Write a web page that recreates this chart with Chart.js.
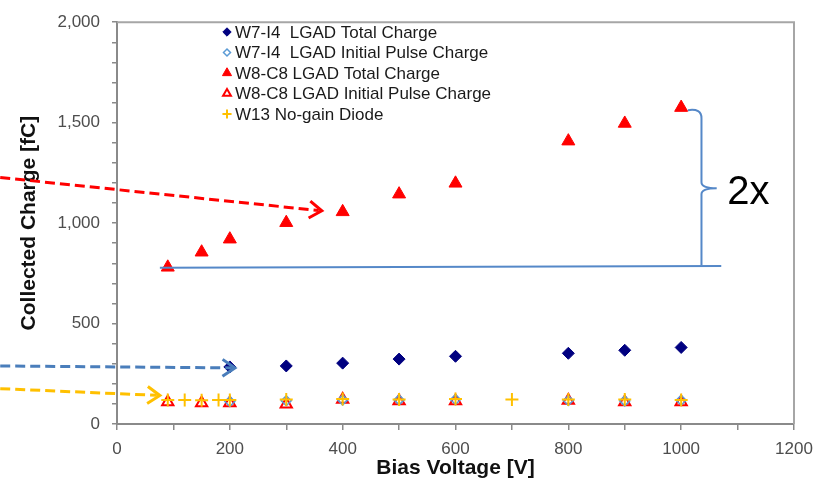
<!DOCTYPE html>
<html>
<head>
<meta charset="utf-8">
<script src="https://cdn.jsdelivr.net/npm/chart.js@4/dist/chart.umd.min.js"></script>
<style>
  html, body { margin: 0; padding: 0; background: #fff; }
  #wrap { width: 827px; height: 486px; position: relative; }
</style>
</head>
<body>
<div id="wrap"><canvas id="chargeChart"></canvas></div>
<script>
// bias voltage [V] and collected charge [fC] per sensor
const w7TotalV   = [200, 300, 400, 500, 600, 800, 900, 1000];
const w7TotalQ   = [284, 289, 303, 323, 337, 352, 367, 381];
const w7InitV    = [200, 300, 400, 500, 600, 800, 900, 1000];
const w7InitQ    = [112, 116, 120, 120, 122, 117, 115, 118];
const w8TotalV   = [90, 150, 200, 300, 400, 500, 600, 800, 900, 1000];
const w8TotalQ   = [780, 855, 920, 1002, 1056, 1144, 1198, 1408, 1496, 1575];
const w8InitV    = [90, 150, 200, 300, 400, 500, 600, 800, 900, 1000];
const w8InitQ    = [109, 104, 104, 98, 122, 114, 114, 117, 109, 109];
const w13V       = [90, 120, 150, 180, 200, 300, 400, 500, 600, 700, 800, 900, 1000];
const w13Q       = [120, 120, 118, 120, 120, 122, 124, 122, 124, 122, 122, 122, 120];

const seriesNames = [
  'W7-I4  LGAD Total Charge',
  'W7-I4  LGAD Initial Pulse Charge',
  'W8-C8 LGAD Total Charge',
  'W8-C8 LGAD Initial Pulse Charge',
  'W13 No-gain Diode'
];

// dashed call-out arrows, [V, fC] end points
const arrowRed    = [[-207, 1227], [363, 1061]];
const arrowBlue   = [[-207, 289], [209, 279]];
const arrowYellow = [[-207, 176], [76, 142]];
// "2x" brace, [V, fC]
const braceBase  = [[76, 778], [1071, 787]];
const braceTop   = [1012, 1562];
const braceX     = 1036;
const braceTip   = [1063, 1174];
const braceLabel = [1119, 1152];

const pts = (xs, ys) => xs.map((x, i) => ({ x, y: ys[i] }));
const NAVY = '#000080', LBLUE = '#5b9bd5', RED = '#ff0000', GOLD = '#ffc000';
const FONT = '"Liberation Sans", Arial, sans-serif';

const styles = [
  { pointStyle: 'rectRot',  radius: 6,   fill: NAVY, stroke: NAVY, bw: 1 },
  { pointStyle: 'rectRot',  radius: 5,   fill: 'rgba(0,0,0,0)', stroke: LBLUE, bw: 1.5 },
  { pointStyle: 'triangle', radius: 7.5, fill: RED,  stroke: RED,  bw: 1 },
  { pointStyle: 'triangle', radius: 6.5, fill: 'rgba(0,0,0,0)', stroke: RED, bw: 2 },
  { pointStyle: 'cross',    radius: 6.5, fill: GOLD, stroke: GOLD, bw: 2 }
];
const dataSets = [pts(w7TotalV, w7TotalQ), pts(w7InitV, w7InitQ), pts(w8TotalV, w8TotalQ),
                  pts(w8InitV, w8InitQ), pts(w13V, w13Q)];
const drawOrder = [4, 2, 5, 3, 1];

// legend inside the plot, top left
const legendBox = {
  id: 'legendBox',
  afterDraw(chart) {
    const ctx = chart.ctx;
    ctx.save();
    ctx.font = '17px ' + FONT;
    ctx.textBaseline = 'middle';
    ctx.fillStyle = '#1a1a1a';
    seriesNames.forEach((name, i) => {
      const y = 32 + i * 20.5, s = styles[i];
      ctx.fillStyle = s.fill; ctx.strokeStyle = s.stroke; ctx.lineWidth = s.bw;
      Chart.helpers.drawPoint(ctx, { pointStyle: s.pointStyle, radius: s.radius * 0.7, borderWidth: s.bw, rotation: 0 }, 227, y);
      ctx.fillStyle = '#1a1a1a';
      ctx.fillText(name, 235, y + 1);
    });
    ctx.restore();
  }
};

// top/right frame of plot area
const frame = {
  id: 'frame',
  beforeDatasetsDraw(chart) {
    const { ctx, chartArea: a } = chart;
    ctx.save();
    ctx.strokeStyle = '#a6a6a6'; ctx.lineWidth = 2;
    ctx.beginPath();
    ctx.moveTo(a.left, a.top); ctx.lineTo(a.right, a.top); ctx.lineTo(a.right, a.bottom);
    ctx.stroke();
    ctx.restore();
  }
};

// arrows + brace drawn in data space
const callouts = {
  id: 'callouts',
  afterDraw(chart) {
    const { ctx } = chart, sx = chart.scales.x, sy = chart.scales.y;
    const P = p => [sx.getPixelForValue(p[0]), sy.getPixelForValue(p[1])];

    function arrow(seg, color) {
      const [x0, y0] = P(seg[0]), [x1, y1] = P(seg[1]);
      const ang = Math.atan2(y1 - y0, x1 - x0);
      ctx.save();
      ctx.strokeStyle = color; ctx.lineWidth = 3; ctx.lineCap = 'butt';
      ctx.setLineDash([10, 5]);
      ctx.beginPath(); ctx.moveTo(x0, y0); ctx.lineTo(x1 - 3 * Math.cos(ang), y1 - 3 * Math.sin(ang)); ctx.stroke();
      ctx.setLineDash([]);
      ctx.lineJoin = 'miter';
      const L = 15, spread = 0.6;
      ctx.beginPath();
      ctx.moveTo(x1 - L * Math.cos(ang - spread), y1 - L * Math.sin(ang - spread));
      ctx.lineTo(x1, y1);
      ctx.lineTo(x1 - L * Math.cos(ang + spread), y1 - L * Math.sin(ang + spread));
      ctx.stroke();
      ctx.restore();
    }
    arrow(arrowRed, '#ff0000');
    arrow(arrowBlue, '#4a7ebb');
    arrow(arrowYellow, '#ffc000');

    ctx.save();
    ctx.strokeStyle = '#5588c8'; ctx.lineWidth = 2;
    const [bx0, by0] = P(braceBase[0]), [bx1, by1] = P(braceBase[1]);
    ctx.beginPath(); ctx.moveTo(bx0, by0); ctx.lineTo(bx1, by1); ctx.stroke();

    const [tx, ty] = P(braceTop), bx = sx.getPixelForValue(braceX);
    const [px, py] = P(braceTip);
    ctx.beginPath();
    ctx.moveTo(tx, ty);
    ctx.quadraticCurveTo(bx, ty - 2, bx, ty + 8);
    ctx.lineTo(bx, py - 6);
    ctx.quadraticCurveTo(bx, py, px, py);
    ctx.quadraticCurveTo(bx, py, bx, py + 6);
    ctx.lineTo(bx, by1 - 1);
    ctx.stroke();

    const [lx, ly] = P(braceLabel);
    ctx.fillStyle = '#000';
    ctx.font = '40px ' + FONT;
    ctx.textAlign = 'center'; ctx.textBaseline = 'middle';
    ctx.fillText('2x', lx, ly);
    ctx.restore();
  }
};

new Chart(document.getElementById('chargeChart'), {
  type: 'scatter',
  data: {
    datasets: dataSets.map((d, i) => ({
      label: seriesNames[i],
      data: d,
      order: drawOrder[i],
      pointStyle: styles[i].pointStyle,
      pointRadius: styles[i].radius,
      pointHoverRadius: styles[i].radius,
      backgroundColor: styles[i].fill,
      borderColor: styles[i].stroke,
      pointBorderWidth: styles[i].bw,
      showLine: false
    }))
  },
  options: {
    responsive: true, maintainAspectRatio: false, animation: false,
    layout: { padding: { top: 15, right: 33, left: 0, bottom: 0 } },
    plugins: { legend: { display: false }, tooltip: { enabled: false } },
    scales: {
      x: {
        min: 0, max: 1200,
        afterFit: s => { s.height = 62; },
        border: { color: '#8a8a8a', width: 2 },
        grid: { drawOnChartArea: false, drawTicks: true, tickLength: 6, color: '#8a8a8a', lineWidth: 1.5 },
        ticks: {
          stepSize: 100, autoSkip: false, maxRotation: 0, padding: 9,
          color: '#4d4d4d', font: { family: FONT, size: 17 },
          callback: v => (v % 200 === 0 ? String(v) : '')
        },
        title: {
          display: true, text: 'Bias Voltage [V]', color: '#111',
          font: { family: FONT, size: 21, weight: 'bold' }, padding: { top: 0, bottom: 5 }
        }
      },
      y: {
        min: 0, max: 2000,
        afterFit: s => { s.width = 117; },
        border: { color: '#8a8a8a', width: 2 },
        grid: { drawOnChartArea: false, drawTicks: true, tickLength: 5, color: '#8a8a8a', lineWidth: 1.5 },
        ticks: {
          stepSize: 100, autoSkip: false, padding: 12,
          color: '#4d4d4d', font: { family: FONT, size: 17 },
          callback: v => (v % 500 === 0 ? v.toLocaleString('en-US') : '')
        },
        title: {
          display: true, text: 'Collected Charge [fC]', color: '#111',
          font: { family: FONT, size: 21, weight: 'bold' }, padding: { top: 17, bottom: 0 }
        }
      }
    }
  },
  plugins: [frame, legendBox, callouts]
});
</script>
</body>
</html>
